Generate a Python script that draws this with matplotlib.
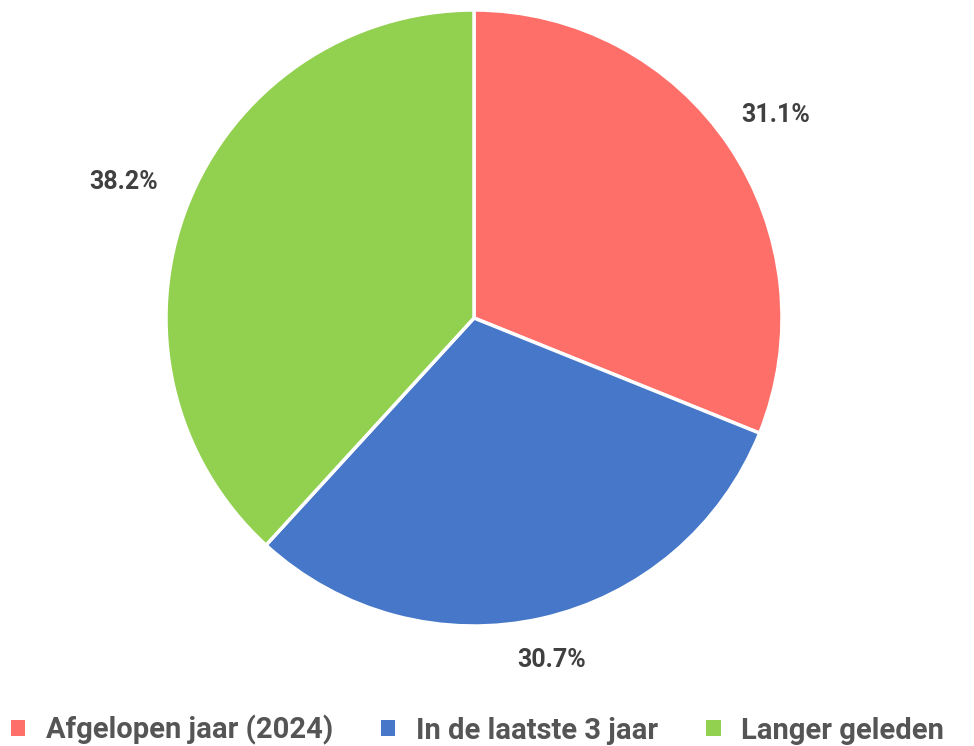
import matplotlib
matplotlib.use("Agg")
import numpy as np
import matplotlib.pyplot as plt
from matplotlib.patches import Patch

# share of respondents per period
categories = ["Afgelopen jaar (2024)", "In de laatste 3 jaar", "Langer geleden"]
values = [31.1, 30.7, 38.2]
colors = ["#FF6F69", "#4677C8", "#92D050"]

plt.rcParams["font.family"] = ["Roboto", "DejaVu Sans"]

fig = plt.figure(figsize=(9.74, 7.46), dpi=100)
ax = fig.add_axes([166 / 974, 120 / 746, 616 / 974, 616 / 746])

wedges, texts, autotexts = ax.pie(
    values, colors=colors, startangle=90, counterclock=False,
    autopct="%.1f%%", pctdistance=1.18, radius=1.0,
    wedgeprops=dict(edgecolor="white", linewidth=2.5),
    textprops=dict(fontsize=18, fontweight="bold", color="#404040"))

# push the percentage labels out a little more, per wedge
label_dist = [1.18, 1.14, 1.22]
for w, t, d in zip(wedges, autotexts, label_dist):
    mid = np.deg2rad((w.theta1 + w.theta2) / 2)
    t.set_position((d * np.cos(mid), d * np.sin(mid)))

ax.set_xlim(-1, 1)
ax.set_ylim(-1, 1)
ax.set_aspect("equal")
ax.axis("off")

handles = [Patch(facecolor=c, edgecolor="none") for c in colors]
fig.legend(handles, categories, loc="lower center", ncol=3, frameon=False,
           bbox_to_anchor=(0.49, -0.034), handlelength=0.5,
           handleheight=0.5, handletextpad=0.7, columnspacing=1.65,
           prop=dict(size=21, weight="bold"), labelcolor="#555555")

fig.savefig("out.png", dpi=100)
